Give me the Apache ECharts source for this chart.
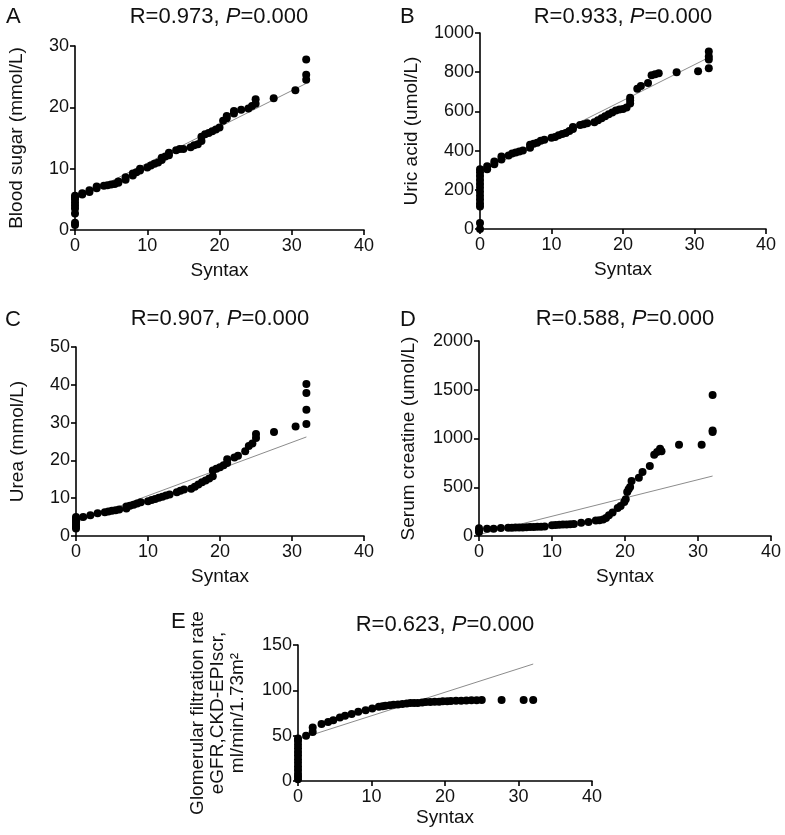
<!DOCTYPE html>
<html>
<head>
<meta charset="utf-8">
<script src="https://cdn.jsdelivr.net/npm/echarts@6/dist/echarts.min.js"></script>
<style>
html,body{margin:0;padding:0;background:#fff;}
#chart{width:785px;height:835px;}
</style>
</head>
<body>
<div id="chart"></div>
<script>
// ---------- DATA ----------
const xTicks = [0, 10, 20, 30, 40];

// A: Blood sugar
const aX = [0,0,0,0,0,0,0,0,0, 1,1,2,2,3,3,4,4.5,5,5.5,6,6,7,7,8,8,8.5,9,9,10,10.5,11,11.5,12,12,12.5,13,13,14,14.5,15,16,16.5,17,17.5,17.5,18,18.5,19,19.5,20,20.5,21,21,22,22,23,24,24.5,25,25,27.5,30.5,32,32,32];
const aY = [0.8,1.2,2.7,3.5,4.0,4.5,5.0,5.3,5.6, 5.8,6.0,6.2,6.5,6.8,7.1,7.2,7.3,7.4,7.5,7.7,7.9,8.2,8.6,8.9,9.2,9.4,9.7,10.0,10.2,10.5,10.8,11.0,11.4,11.8,12.0,12.2,12.6,13.0,13.2,13.2,13.5,13.8,14.0,14.5,15.2,15.6,15.8,16.1,16.4,16.7,17.8,18.2,18.6,19.0,19.4,19.6,19.8,20.2,20.6,21.3,21.5,22.8,24.5,25.3,27.8];
const aLineX = [0, 32];
const aLineY = [5.0, 23.9];
const aTitle = ['R=0.973, ', 'P', '=0.000'];

// B: Uric acid
const bX = [0,0,0,0,0,0,0,0,0,0,0,0,0, 1,1,2,2,3,3,4,4.5,5,5.5,6,7,7,7.5,8,8.5,9,10,10.5,11,11.5,12,12.5,13,13,14,14.5,15,16,16.5,17,17.5,18,18.5,19,19.5,20,20.5,21,21,21,22,22.5,23.5,24,24.5,25,27.5,30.5,32,32,32,32];
const bY = [0,30,115,130,150,170,190,210,230,250,270,290,305, 305,320,330,345,355,370,375,385,390,395,400,415,430,435,440,450,455,465,470,478,485,490,500,510,520,530,535,540,545,555,565,575,585,595,605,610,612,620,640,655,670,715,730,745,785,790,795,800,805,820,865,880,905];
const bLineX = [0, 32];
const bLineY = [290, 875];
const bTitle = ['R=0.933, ', 'P', '=0.000'];

// C: Urea
const cX = [0,0,0,0,0,0,0, 1,2,3,4,4.5,5,5.5,6,7,7,7.5,8,8.5,9,10,10.5,11,11.5,12,12.5,13,14,14.5,15,16,16.5,17,17.5,18,18.5,19,19,19.5,20,20.5,21,21,22,22.5,23.5,24,24.5,25,25,27.5,30.5,32,32,32,32];
const cY = [2,2.5,3,3.5,4,4.5,5, 5.0,5.5,6.0,6.3,6.5,6.7,6.8,7.0,7.3,7.8,8.0,8.3,8.6,8.9,9.2,9.5,9.8,10.1,10.4,10.7,11.0,11.6,12.0,12.3,12.5,13.0,13.6,14.2,14.7,15.2,15.8,17.3,17.8,18.2,18.7,19.3,20.3,20.8,21.2,22.4,23.8,24.5,25.9,27.0,27.5,29.0,29.6,33.4,37.8,40.2];
const cLineX = [0, 32];
const cLineY = [3.6, 26.2];
const cTitle = ['R=0.907, ', 'P', '=0.000'];

// D: Serum creatine
const dX = [0,0,0, 1.1,2,3,4,4.5,5,5.5,6,6.5,7,7.5,8,8.5,9,10,10.5,11,11.5,12,12.5,13,14,15,16,16.5,17,17.4,17.8,18.3,19,19.4,19.9,20.1,20.3,20.5,20.7,20.9,21.9,22.4,23.4,24,24.4,24.8,25,27.4,30.5,32,32,32];
const dY = [40,60,80, 75,75,82,85,85,86,87,88,90,92,93,95,96,97,109,112,116,117,118,120,122,137,143,160,162,170,185,212,240,287,308,349,376,451,480,502,564,598,656,718,834,862,896,870,937,937,1067,1083,1446];
const dLineX = [0, 32];
const dLineY = [15, 615];
const dTitle = ['R=0.588, ', 'P', '=0.000'];

// E: eGFR
const eX = [0,0,0,0,0,0,0,0,0,0,0,0,0, 1.1,2,2,3.2,4.1,4.8,5.7,6.4,7.3,8.2,9.2,10.1,11,11.5,11.9,12.5,13,13.6,14.2,14.8,15.3,15.8,16.3,16.9,17.4,18,18.6,19.2,19.7,20.3,20.8,21.5,22.2,22.9,23.6,24.3,25,27.7,30.7,32];
const eY = [2,5,8,12,16,20,24,28,32,36,40,44,47, 50,54,59,63,65,67,70,72,74,76.5,78,80,82,82.5,83,83.5,84,84.5,85,85.5,86,86,86,86.5,87,87,87.5,87.5,88,88,88.3,88.5,88.6,88.8,89,89.2,89.4,89.4,89.4,89.4];
const eLineX = [0, 32];
const eLineY = [46, 129];
const eTitle = ['R=0.623, ', 'P', '=0.000'];

const yNames = ['Blood sugar (mmol/L)', 'Uric acid (umol/L)', 'Urea (mmol/L)', 'Serum creatine (umol/L)',
  'Glomerular filtration rate\neGFR,CKD-EPIscr,\nml/min/1.73m\u00B2'];
const yMax = [30, 1000, 50, 2000, 150];
const yStep = [10, 200, 10, 500, 50];
const xName = 'Syntax';
const letters = ['A', 'B', 'C', 'D', 'E'];

// ---------- LAYOUT ----------
const FONT = '"Liberation Sans", Arial, sans-serif';
const grids = [
  {left: 75, top: 46, width: 289, height: 184},
  {left: 480, top: 33, width: 286, height: 196},
  {left: 76, top: 347, width: 288, height: 189},
  {left: 479, top: 341, width: 292, height: 195},
  {left: 298, top: 645, width: 294, height: 136}
];
const yNameGap = [48, 58, 48, 60, 50];
const xNameGap = [31, 31, 31, 31, 27];
const titlePos = [[219, 17], [623, 17], [220, 319], [625, 319], [445, 625]];
const letterPos = [[6, 17], [400, 17], [5, 320], [400, 320], [171, 622]];

const panels = [
  {x: aX, y: aY, lx: aLineX, ly: aLineY, t: aTitle},
  {x: bX, y: bY, lx: bLineX, ly: bLineY, t: bTitle},
  {x: cX, y: cY, lx: cLineX, ly: cLineY, t: cTitle},
  {x: dX, y: dY, lx: dLineX, ly: dLineY, t: dTitle},
  {x: eX, y: eY, lx: eLineX, ly: eLineY, t: eTitle}
];

const axisLine = {show: true, onZero: false, lineStyle: {color: '#000', width: 1.6}};
const axisTick = {show: true, inside: false, length: 5, lineStyle: {color: '#000', width: 1.6}};
const plain = v => String(v);

const xAxes = [], yAxes = [], series = [], graphics = [];
panels.forEach((p, i) => {
  xAxes.push({
    type: 'value', gridIndex: i, min: xTicks[0], max: xTicks[xTicks.length - 1], interval: xTicks[1] - xTicks[0],
    name: xName, nameLocation: 'middle', nameGap: xNameGap[i],
    nameTextStyle: {fontFamily: FONT, fontSize: 19, color: '#111'},
    axisLine, axisTick, splitLine: {show: false},
    axisLabel: {fontFamily: FONT, fontSize: 18, color: '#111', margin: 7, formatter: plain}
  });
  yAxes.push({
    type: 'value', gridIndex: i, min: 0, max: yMax[i], interval: yStep[i],
    name: yNames[i], nameLocation: 'middle', nameGap: yNameGap[i], nameRotate: 90,
    nameTextStyle: {fontFamily: FONT, fontSize: 19, color: '#111', lineHeight: 20, align: 'center'},
    axisLine, axisTick, splitLine: {show: false},
    axisLabel: {fontFamily: FONT, fontSize: 18, color: '#111', margin: 6, formatter: plain}
  });
  series.push({
    type: 'line', xAxisIndex: i, yAxisIndex: i, symbol: 'none', silent: true, z: 1,
    lineStyle: {color: '#8c8c8c', width: 1},
    data: p.lx.map((v, k) => [v, p.ly[k]])
  });
  series.push({
    type: 'scatter', xAxisIndex: i, yAxisIndex: i, symbol: 'circle', symbolSize: 8, z: 2,
    itemStyle: {color: '#000', opacity: 1},
    data: p.x.map((v, k) => [v, p.y[k]])
  });
  graphics.push({
    type: 'text', x: titlePos[i][0], y: titlePos[i][1],
    style: {
      text: '{n|' + p.t[0] + '}{i|' + p.t[1] + '}{n|' + p.t[2] + '}',
      align: 'center', verticalAlign: 'middle',
      rich: {
        n: {fontFamily: FONT, fontSize: 22, fill: '#111'},
        i: {fontFamily: FONT, fontSize: 22, fontStyle: 'italic', fill: '#111'}
      }
    }
  });
  graphics.push({
    type: 'text', x: letterPos[i][0], y: letterPos[i][1],
    style: {text: letters[i], font: '22px ' + FONT, fill: '#111', align: 'left', verticalAlign: 'middle'}
  });
});

const chart = echarts.init(document.getElementById('chart'), null, {renderer: 'canvas'});
chart.setOption({
  animation: false,
  backgroundColor: '#fff',
  grid: grids.map(g => Object.assign({containLabel: false}, g)),
  xAxis: xAxes,
  yAxis: yAxes,
  series: series,
  graphic: graphics
});
</script>
</body>
</html>
